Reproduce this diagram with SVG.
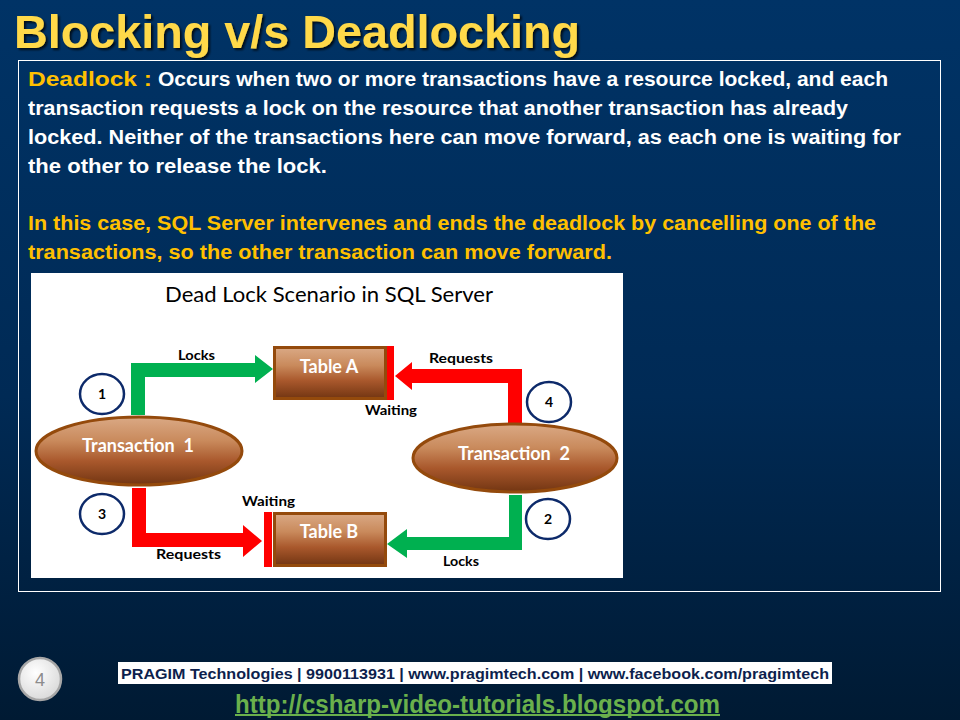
<svg xmlns="http://www.w3.org/2000/svg" width="960" height="720" viewBox="0 0 960 720">
<defs>
<linearGradient id="bg" x1="0" y1="0" x2="0" y2="1">
<stop offset="0" stop-color="#003366"/>
<stop offset="0.55" stop-color="#002a55"/>
<stop offset="1" stop-color="#001a33"/>
</linearGradient>
<linearGradient id="brown" x1="0" y1="0" x2="0" y2="1">
<stop offset="0" stop-color="#daa985"/>
<stop offset="0.35" stop-color="#c98a5c"/>
<stop offset="0.65" stop-color="#a9582c"/>
<stop offset="1" stop-color="#723512"/>
</linearGradient>
<radialGradient id="pg" cx="0.4" cy="0.35" r="0.7">
<stop offset="0" stop-color="#ffffff"/>
<stop offset="1" stop-color="#d8d8d8"/>
</radialGradient>
<filter id="shadow" x="-5%" y="-20%" width="110%" height="140%">
<feDropShadow dx="2" dy="2" stdDeviation="0.8" flood-color="#000000" flood-opacity="0.75"/>
</filter>
<style>
.body{font-family:"Liberation Sans",Arial,sans-serif;font-weight:bold;font-size:20px;fill:#ffffff}
.yel{fill:#ffc000}
.lbl{font-family:Lato,"Open Sans",sans-serif;font-weight:bold;font-size:14px;fill:#000000}
.node{fill:url(#brown);stroke:#944a0c;stroke-width:3}
.ntxt{font-family:Lato,"Open Sans",sans-serif;font-weight:bold;font-size:18px;fill:#ffffff;text-anchor:middle}
.num{fill:#ffffff;stroke:#0d2a6a;stroke-width:2.5}
.ntx{font-family:Lato,"Open Sans",sans-serif;font-weight:bold;font-size:14px;fill:#000000;text-anchor:middle}
.green{fill:#00b050}
.red{fill:#ff0000}
</style>
</defs>
<rect x="0" y="0" width="960" height="720" fill="url(#bg)"/>
<text x="14" y="48" font-family="Liberation Sans,Arial,sans-serif" font-weight="bold" font-size="47" fill="#ffd94a" filter="url(#shadow)" textLength="566" lengthAdjust="spacingAndGlyphs">Blocking v/s Deadlocking</text>
<rect x="18.5" y="60.5" width="922" height="531" fill="none" stroke="#ffffff" stroke-width="1"/>
<text class="body" y="86"><tspan x="28" class="yel" textLength="124" lengthAdjust="spacingAndGlyphs">Deadlock :</tspan><tspan x="158" textLength="730" lengthAdjust="spacingAndGlyphs">Occurs when two or more transactions have a resource locked, and each</tspan></text>
<text class="body" x="28" y="115" textLength="820" lengthAdjust="spacingAndGlyphs">transaction requests a lock on the resource that another transaction has already</text>
<text class="body" x="28" y="144" textLength="873" lengthAdjust="spacingAndGlyphs">locked. Neither of the transactions here can move forward, as each one is waiting for</text>
<text class="body" x="28" y="173" textLength="299" lengthAdjust="spacingAndGlyphs">the other to release the lock.</text>
<text class="body yel" x="28" y="230" textLength="848" lengthAdjust="spacingAndGlyphs">In this case, SQL Server intervenes and ends the deadlock by cancelling one of the</text>
<text class="body yel" x="28" y="259" textLength="584" lengthAdjust="spacingAndGlyphs">transactions, so the other transaction can move forward.</text>
<rect x="31" y="273" width="592" height="305" fill="#ffffff"/>
<text x="165" y="302" font-family="Lato,'Open Sans',sans-serif" font-size="21" fill="#000000" textLength="328" lengthAdjust="spacingAndGlyphs">Dead Lock Scenario in SQL Server</text>
<g id="connectors">
<polygon class="green" points="131,415 131,363 255,363 255,355 273,369 255,383 255,377 145,377 145,415"/>
<polygon class="red" points="508,423 508,383 412,383 412,390 395,376 412,362 412,369 522,369 522,423"/>
<polygon class="red" points="132,488 132,547 243,547 243,557 262,541 243,525 243,533 146,533 146,488"/>
<polygon class="green" points="522,495 522,550 407,550 407,558 387,544 407,529 407,537 509,537 509,495"/>
<rect class="red" x="387" y="346" width="7" height="54"/>
<rect class="red" x="264" y="512" width="8" height="55"/>
<text class="lbl" x="178" y="360" textLength="37" lengthAdjust="spacingAndGlyphs">Locks</text>
<text class="lbl" x="429" y="363" textLength="64" lengthAdjust="spacingAndGlyphs">Requests</text>
<text class="lbl" x="365" y="415" textLength="52" lengthAdjust="spacingAndGlyphs">Waiting</text>
<text class="lbl" x="242" y="506" textLength="53" lengthAdjust="spacingAndGlyphs">Waiting</text>
<text class="lbl" x="156" y="559" textLength="65" lengthAdjust="spacingAndGlyphs">Requests</text>
<text class="lbl" x="443" y="566" textLength="36" lengthAdjust="spacingAndGlyphs">Locks</text>
</g>
<g id="tableA">
<rect class="node" x="274.5" y="347.5" width="111" height="51"/>
<text class="ntxt" x="329" y="373">Table A</text>
</g>
<g id="tableB">
<rect class="node" x="274.5" y="513.5" width="111" height="52"/>
<text class="ntxt" x="329" y="538">Table B</text>
</g>
<g id="trans1">
<ellipse class="node" cx="139" cy="451" rx="103" ry="34"/>
<text class="ntxt" x="138" y="452" xml:space="preserve">Transaction  1</text>
</g>
<g id="trans2">
<ellipse class="node" cx="515" cy="458" rx="102" ry="34"/>
<text class="ntxt" x="514" y="460" xml:space="preserve">Transaction  2</text>
</g>
<g id="n1"><ellipse class="num" cx="102" cy="394" rx="22" ry="20"/><text class="ntx" x="102" y="399">1</text></g>
<g id="n4"><ellipse class="num" cx="549" cy="402" rx="22" ry="20"/><text class="ntx" x="549" y="407">4</text></g>
<g id="n3"><ellipse class="num" cx="102" cy="514" rx="22" ry="20"/><text class="ntx" x="102" y="519">3</text></g>
<g id="n2"><ellipse class="num" cx="548" cy="519" rx="22" ry="20"/><text class="ntx" x="548" y="524">2</text></g>
<g id="footer">
<circle cx="40" cy="679" r="21" fill="url(#pg)" stroke="#a6a6a6" stroke-width="2.5"/>
<text x="40" y="686" font-family="Liberation Sans,Arial,sans-serif" font-size="18" fill="#8c8c8c" text-anchor="middle">4</text>
<rect x="118" y="662" width="714" height="22" fill="#ffffff"/>
<text x="121" y="679" font-family="Liberation Sans,Arial,sans-serif" font-weight="bold" font-size="15" fill="#0d1f4d" textLength="708" lengthAdjust="spacingAndGlyphs">PRAGIM Technologies | 9900113931 | www.pragimtech.com | www.facebook.com/pragimtech</text>
<text x="235" y="713" font-family="Liberation Sans,Arial,sans-serif" font-weight="bold" font-size="25" fill="#6ab04c" textLength="485" lengthAdjust="spacingAndGlyphs">http://csharp-video-tutorials.blogspot.com</text>
<rect x="235" y="714" width="485" height="2" fill="#6ab04c"/>
</g>
</svg>
